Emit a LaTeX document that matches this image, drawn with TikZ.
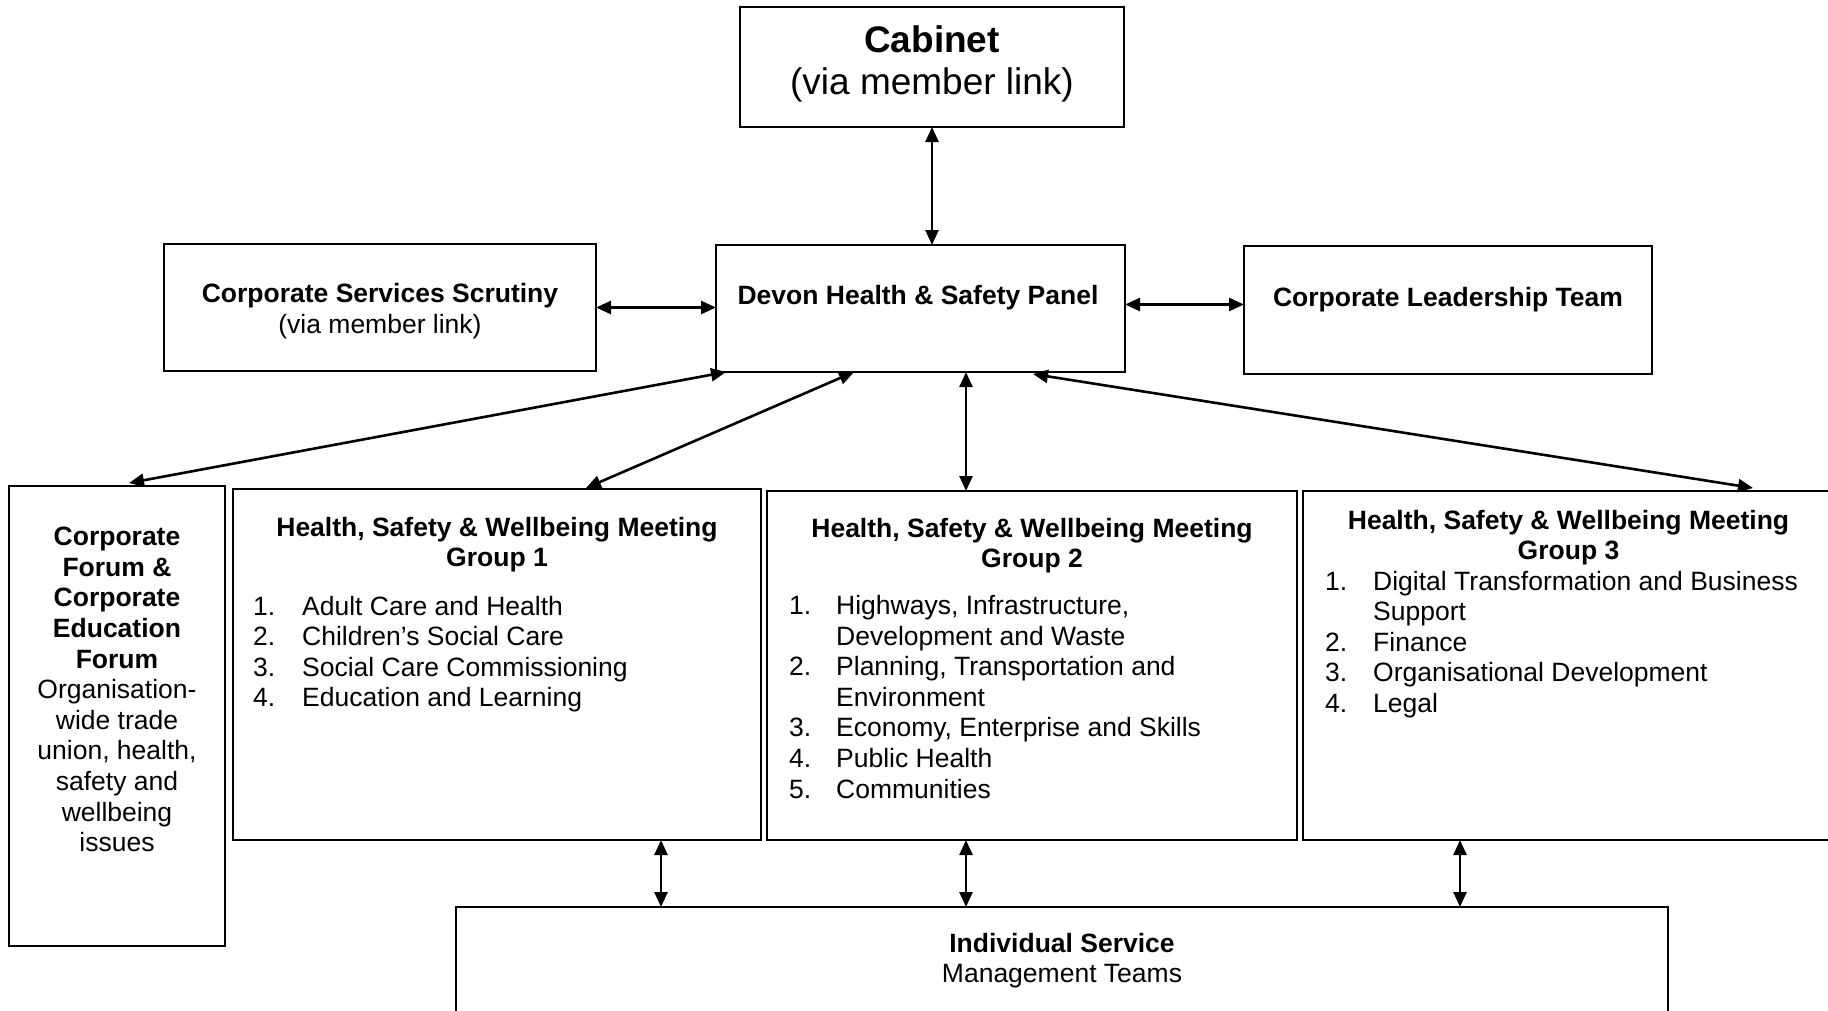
\documentclass[tikz,border=0pt]{standalone}
\usepackage{fontspec}
\setmainfont{Liberation Sans}
\usetikzlibrary{arrows.meta}
\newcommand{\celltab}[2]{\begin{tabular}[t]{@{}#1@{}}#2\end{tabular}}
\begin{document}
\begin{tikzpicture}[x=1pt,y=-1pt,
  box/.style={draw, line width=2.2pt, rectangle, inner sep=0pt, outer sep=0pt, anchor=north west},
  txt/.style={inner sep=0pt, anchor=base, font=\fontsize{26.5}{30.6}\selectfont},
  lst/.style={inner sep=0pt, anchor=base west, font=\fontsize{26.5}{30.6}\selectfont},
  arr/.style={line width=2.6pt, {Triangle[length=15pt,width=13pt]}-{Triangle[length=15pt,width=13pt]}}]
\useasboundingbox (0,0) rectangle (1828,1010);
\clip (0,0) rectangle (1828,1010);
\fill[white] (0,0) rectangle (1828,1010);

% boxes
\node[box, minimum width=384pt, minimum height=120pt] (cab) at (740,7) {};
\node[box, minimum width=409pt, minimum height=127pt] (dev) at (716,245) {};
\node[box, minimum width=432pt, minimum height=127pt] (css) at (164,244) {};
\node[box, minimum width=408pt, minimum height=128pt] (clt) at (1244,246) {};
\node[box, minimum width=216pt, minimum height=460pt] (cf) at (9,486) {};
\node[box, minimum width=528pt, minimum height=351pt] (g1) at (233,489) {};
\node[box, minimum width=530pt, minimum height=349pt] (g2) at (767,491) {};
\node[box, minimum width=531pt, minimum height=349pt] (g3) at (1303,491) {};
\node[box, minimum width=1212pt, minimum height=110pt] (ind) at (456,907) {};

% texts
\node[txt, font=\fontsize{37}{42}\selectfont] (cabt) at (932,52.5) {\celltab{c}{\textbf{Cabinet}\\(via member link)}};
\node[txt] (devt) at (918,304) {\textbf{Devon Health \& Safety Panel}};
\node[txt] (csst) at (380,302.5) {\celltab{c}{\textbf{Corporate Services Scrutiny}\\(via member link)}};
\node[txt] (cltt) at (1448,306) {\textbf{Corporate Leadership Team}};
\node[txt] (cft) at (117,545.7) {\celltab{c}{\textbf{Corporate}\\\textbf{Forum \&}\\\textbf{Corporate}\\\textbf{Education}\\\textbf{Forum}\\Organisation-\\wide trade\\union, health,\\safety and\\wellbeing\\issues}};
\node[txt] (g1t) at (497,536) {\celltab{c}{\textbf{Health, Safety \& Wellbeing Meeting}\\\textbf{Group 1}}};
\node[lst] (g1l) at (253,615) {\celltab{p{49pt}@{}l}{1.&Adult Care and Health\\2.&Children’s Social Care\\3.&Social Care Commissioning\\4.&Education and Learning}};
\node[txt] (g2t) at (1032,537) {\celltab{c}{\textbf{Health, Safety \& Wellbeing Meeting}\\\textbf{Group 2}}};
\node[lst] (g2l) at (789,614.5) {\celltab{p{47pt}@{}l}{1.&Highways, Infrastructure,\\&Development and Waste\\2.&Planning, Transportation and\\&Environment\\3.&Economy, Enterprise and Skills\\4.&Public Health\\5.&Communities}};
\node[txt] (g3t) at (1568.5,529) {\celltab{c}{\textbf{Health, Safety \& Wellbeing Meeting}\\\textbf{Group 3}}};
\node[lst] (g3l) at (1325,590) {\celltab{p{48pt}@{}l}{1.&Digital Transformation and Business\\&Support\\2.&Finance\\3.&Organisational Development\\4.&Legal}};
\node[txt] (indt) at (1062,952) {\celltab{c}{\textbf{Individual Service}\\Management Teams}};

% connectors
\draw[arr] (cab.south) -- (cab.south |- dev.north);
\draw[arr] (css.east) -- (css.east -| dev.west);
\draw[arr] ([yshift=4pt]dev.east) -- ([yshift=4pt]dev.east -| clt.west);
\draw[arr] ([xshift=10pt]dev.south west) -- ([xshift=12pt,yshift=3pt]cf.north);
\draw[arr] ([xshift=138pt]dev.south west) -- ([xshift=89pt,yshift=1pt]g1.north);
\draw[arr] ([xshift=199pt]g2.north west |- dev.south) -- ([xshift=199pt]g2.north west);
\draw[arr] ([xshift=112.5pt,yshift=-2pt]dev.south) -- ([xshift=450pt,yshift=3pt]g3.north west);
\draw[arr] ([xshift=205pt]ind.north west |- g1.south) -- ([xshift=205pt]ind.north west);
\draw[arr] ([xshift=510pt]ind.north west |- g2.south) -- ([xshift=510pt]ind.north west);
\draw[arr] ([xshift=1004pt]ind.north west |- g3.south) -- ([xshift=1004pt]ind.north west);
\end{tikzpicture}
\end{document}
